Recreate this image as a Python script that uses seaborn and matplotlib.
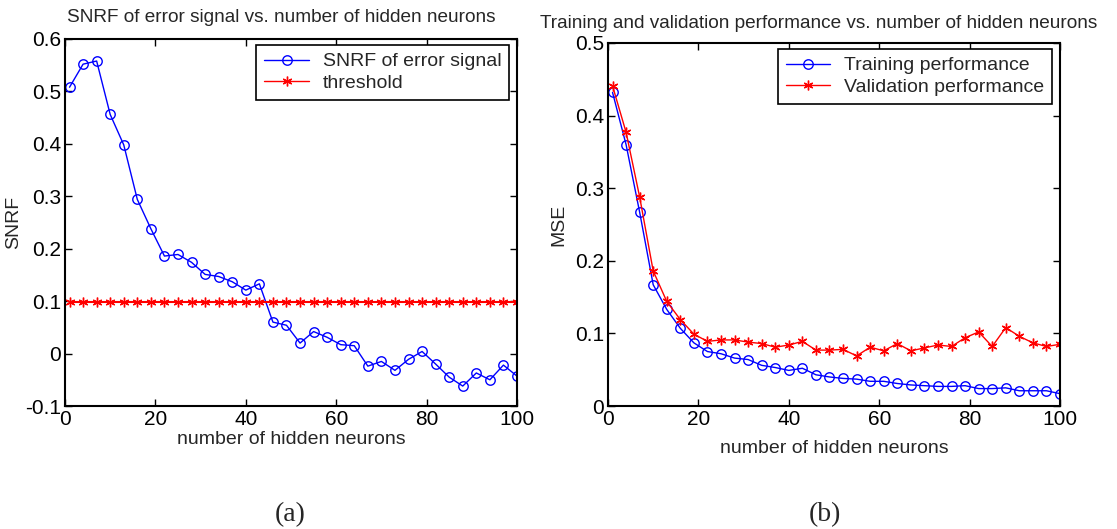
import numpy as np
import pandas as pd
import matplotlib
matplotlib.use("Agg")
import matplotlib.pyplot as plt
import seaborn as sns
from matplotlib.ticker import FuncFormatter
from matplotlib.lines import Line2D

# ---------------- data ----------------
neurons = [1, 4, 7, 10, 13, 16, 19, 22, 25, 28, 31, 34, 37, 40, 43, 46, 49,
           52, 55, 58, 61, 64, 67, 70, 73, 76, 79, 82, 85, 88, 91, 94, 97, 100]

snrf_error = [0.508, 0.552, 0.558, 0.456, 0.398, 0.294, 0.238, 0.186, 0.189,
              0.174, 0.151, 0.147, 0.137, 0.121, 0.133, 0.060, 0.054, 0.020,
              0.042, 0.031, 0.017, 0.015, -0.024, -0.015, -0.032, -0.011,
              0.004, -0.020, -0.045, -0.062, -0.037, -0.050, -0.022, -0.043]

threshold_value = 0.098
threshold = [threshold_value] * len(neurons)

train_mse = [0.432, 0.360, 0.267, 0.167, 0.133, 0.107, 0.087, 0.075, 0.072,
             0.066, 0.064, 0.056, 0.053, 0.049, 0.052, 0.043, 0.040, 0.038,
             0.037, 0.034, 0.034, 0.031, 0.029, 0.028, 0.027, 0.027, 0.028,
             0.024, 0.024, 0.025, 0.021, 0.021, 0.021, 0.017]

valid_mse = [0.441, 0.377, 0.288, 0.186, 0.144, 0.119, 0.099, 0.089, 0.091,
             0.091, 0.088, 0.086, 0.081, 0.084, 0.089, 0.077, 0.077, 0.078,
             0.069, 0.081, 0.076, 0.086, 0.076, 0.080, 0.084, 0.082, 0.094,
             0.102, 0.082, 0.108, 0.096, 0.087, 0.082, 0.085]

left_title = "SNRF of error signal vs. number of hidden neurons"
right_title = "Training and validation performance vs. number of hidden neurons"
xlabel_text = "number of hidden neurons"
legend_left = ["SNRF of error signal", "threshold"]
legend_right = ["Training performance", "Validation performance"]
x_ticks = [0, 20, 40, 60, 80, 100]
left_yticks = [-0.1, 0, 0.1, 0.2, 0.3, 0.4, 0.5, 0.6]
right_yticks = [0, 0.1, 0.2, 0.3, 0.4, 0.5]

# ---------------- style ----------------
sns.set_theme(style="white")
plt.rcParams['font.family'] = ['Liberation Sans', 'DejaVu Sans']
plt.rcParams['axes.edgecolor'] = 'black'
plt.rcParams['axes.linewidth'] = 1.5

BLUE = '#0000FF'
RED = '#FF0000'
TICK_FS = 15
LAB_FS = 14
TITLE_FS = 13.7
LEG_FS = 14

fig = plt.figure(figsize=(11.17, 5.29), dpi=100)
W, H = 1117, 529
ax1 = fig.add_axes([65 / W, 1 - 406 / H, 452 / W, 367 / H])
ax2 = fig.add_axes([608 / W, 1 - 406 / H, 452 / W, 363 / H])

df_left = pd.DataFrame({"n": neurons, "snrf": snrf_error, "thr": threshold})
df_right = pd.DataFrame({"n": neurons, "train": train_mse, "valid": valid_mse})

circle_kw = dict(marker='o', markersize=6.8, markerfacecolor='none',
                 markeredgewidth=1.0)
star_kw = dict(marker=(6, 2, 0), markersize=7, markeredgewidth=1.0)

sns.lineplot(data=df_left, x="n", y="snrf", ax=ax1, color=BLUE, linewidth=1.0,
             markeredgecolor=BLUE, **circle_kw)
sns.lineplot(data=df_left, x="n", y="thr", ax=ax1, color=RED, linewidth=1.5,
             markeredgecolor=RED, **star_kw)

sns.lineplot(data=df_right, x="n", y="train", ax=ax2, color=BLUE, linewidth=1.0,
             markeredgecolor=BLUE, **circle_kw)
sns.lineplot(data=df_right, x="n", y="valid", ax=ax2, color=RED, linewidth=1.0,
             markeredgecolor=RED, **star_kw)

fmt = FuncFormatter(lambda v, p: ('%g' % round(v, 2)))

for ax, yt in ((ax1, left_yticks), (ax2, right_yticks)):
    ax.set_xlim(0, 100)
    ax.set_ylim(yt[0], yt[-1])
    ax.set_xticks(x_ticks)
    ax.set_yticks(yt)
    ax.yaxis.set_major_formatter(fmt)
    ax.xaxis.set_major_formatter(fmt)
    ax.tick_params(direction='in', length=5, width=1.0, colors='black',
                   labelsize=TICK_FS, top=True, right=True, bottom=True,
                   left=True, pad=3)
    for s in ax.spines.values():
        s.set_visible(True)
        s.set_color('black')
        s.set_linewidth(1.5)
    ax.grid(False)
    ax.set_facecolor('white')

ax1.set_xlabel(xlabel_text, fontsize=LAB_FS, labelpad=1)
ax2.set_xlabel(xlabel_text, fontsize=LAB_FS, labelpad=8)
ax1.set_ylabel("SNRF", fontsize=LAB_FS, labelpad=2)
ax2.set_ylabel("MSE", fontsize=LAB_FS, labelpad=5)

ax1.set_title(left_title, fontsize=TITLE_FS, x=0.478, pad=12)
ax2.set_title(right_title, fontsize=TITLE_FS, x=0.465, pad=11)

def make_handles(colors, kws):
    hs = []
    for c, kw in zip(colors, kws):
        hs.append(Line2D([0], [0], color=c, linewidth=1.0, markeredgecolor=c, **kw))
    return hs

leg_kw = dict(loc='upper right', borderaxespad=0, fontsize=LEG_FS,
              frameon=True, fancybox=False, framealpha=1, edgecolor='black',
              handlelength=2.3, handletextpad=0.7, labelspacing=0.2,
              borderpad=0.4, numpoints=1)

l1 = ax1.legend(make_handles([BLUE, RED], [circle_kw, star_kw]), legend_left,
                bbox_to_anchor=(1 - 8 / 452, 1 - 6 / 367), **leg_kw)
l2 = ax2.legend(make_handles([BLUE, RED], [circle_kw, star_kw]), legend_right,
                bbox_to_anchor=(1 - 8 / 452, 1 - 6 / 363), **leg_kw)
for l in (l1, l2):
    l.get_frame().set_linewidth(1.2)

fig.text(290 / W, 1 - 515 / H, "(a)", fontsize=20, ha='center', va='center',
         family=['Liberation Serif', 'DejaVu Serif'])
fig.text(825 / W, 1 - 515 / H, "(b)", fontsize=20, ha='center', va='center',
         family=['Liberation Serif', 'DejaVu Serif'])

fig.savefig("out.png", dpi=100, facecolor='white')
